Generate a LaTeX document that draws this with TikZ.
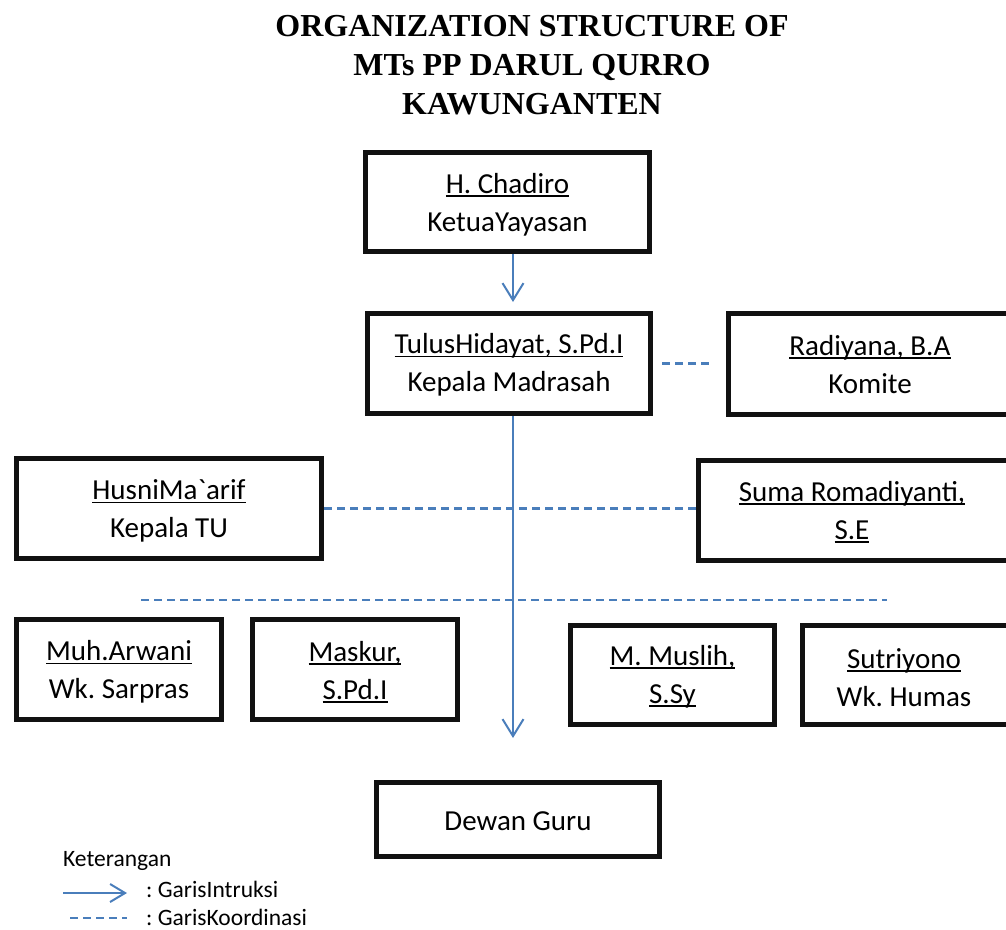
\documentclass[tikz,border=0pt]{standalone}
\usepackage{fontspec}
\setmainfont{Carlito}[Ligatures=TeXOff]
\newfontfamily\titlefont{Liberation Serif}
\usetikzlibrary{arrows.meta}
\definecolor{lineblue}{HTML}{4A7EBB}
\definecolor{boxblack}{HTML}{111111}
\newcommand\uln[1]{\setbox0\hbox{#1}\rlap{\rule[-3.5pt]{\wd0}{1.6pt}}\box0}
\frenchspacing
\begin{document}
\begin{tikzpicture}[x=1pt,y=-1pt,
  box/.style={draw=boxblack, line width=5pt, inner sep=0pt},
  boxtext/.style={align=center, inner sep=0pt, font=\fontsize{29}{38}\selectfont\frenchspacing},
  instr/.style={draw=lineblue, line width=2pt, -{Straight Barb[length=17pt,width=21pt]}},
  coordl/.style={draw=lineblue, line width=2.2pt, dash pattern=on 8pt off 5pt},
  legend/.style={inner sep=0pt, anchor=base west, font=\fontsize{23.5}{28}\selectfont\frenchspacing}]
\useasboundingbox (0,0) rectangle (1006,929);
\clip (0,0) rectangle (1006,929);

\node[align=center, inner sep=0pt, font=\titlefont\bfseries\fontsize{32}{39}\selectfont] (title) at (532,65)
  {ORGANIZATION STRUCTURE OF\\MTs PP DARUL QURRO\\KAWUNGANTEN};

\node[box, minimum width=284pt, minimum height=99pt] (b1) at (507.5,202) {};
\node[boxtext] (b1t) at (507.5,204.5) {\uln{H. Chadiro}\\KetuaYayasan};
\node[box, minimum width=283pt, minimum height=100pt] (b2) at (509,363.5) {};
\node[boxtext] (b2t) at (509,365) {\uln{TulusHidayat, S.Pd.I}\\Kepala Madrasah};
\node[box, minimum width=283pt, minimum height=101pt] (rad) at (870,364) {};
\node[boxtext] (radt) at (870,364.5) {\uln{Radiyana, B.A}\\Komite};
\node[box, minimum width=305pt, minimum height=100pt] (husni) at (169,508.5) {};
\node[boxtext] (husnit) at (169,511) {\uln{HusniMa`arif}\\Kepala TU};
\node[box, minimum width=315pt, minimum height=100pt] (suma) at (856,510.5) {};
\node[boxtext] (sumat) at (852,512) {\uln{Suma Romadiyanti,}\\\uln{S.E}};
\node[box, minimum width=205pt, minimum height=100pt] (muh) at (119,669.5) {};
\node[boxtext] (muht) at (119,672) {\uln{Muh.Arwani}\\Wk. Sarpras};
\node[box, minimum width=205pt, minimum height=100pt] (maskur) at (355,669.5) {};
\node[boxtext] (maskurt) at (355,672) {\uln{Maskur,}\\\uln{S.Pd.I}};
\node[box, minimum width=204pt, minimum height=99pt] (muslih) at (672.5,675) {};
\node[boxtext] (muslsiht) at (672.5,676.5) {\uln{M. Muslih,}\\\uln{S.Sy}};
\node[box, minimum width=211pt, minimum height=99pt] (sutri) at (908,675) {};
\node[boxtext] (sutrit) at (904,677.5) {\uln{Sutriyono}\\Wk. Humas};
\node[box, minimum width=283pt, minimum height=74pt] (dewan) at (518,819.5) {};
\node[boxtext] (dewant) at (518,821) {Dewan Guru};

\coordinate (ax) at (513,0);
\draw[instr, shorten >=9pt] (b1.south -| ax) -- (b2.north -| ax);
\draw[coordl, shorten <=9pt, shorten >=14pt] (b2.east) -- (b2.east -| rad.west);
\draw[coordl] (husni.east) -- (husni.east -| suma.west);
\coordinate (dl) at (141,600);
\coordinate (dr) at (887,600);
\draw[coordl] (dl) -- (dr);
\draw[instr, shorten >=42pt] (b2.south -| ax) -- (dewan.north -| ax);

\node[legend] (ket) at (63,866) {Keterangan};
\coordinate (la1) at (63,893);
\coordinate (la2) at (127,893);
\draw[instr, -{Straight Barb[length=15pt,width=18pt]}] (la1) -- (la2);
\node[legend] (gi) at (146,897) {: GarisIntruksi};
\coordinate (ld1) at (70,918);
\coordinate (ld2) at (127,918);
\draw[coordl] (ld1) -- (ld2);
\node[legend] (gk) at (146,925) {: GarisKoordinasi};
\end{tikzpicture}
\end{document}
